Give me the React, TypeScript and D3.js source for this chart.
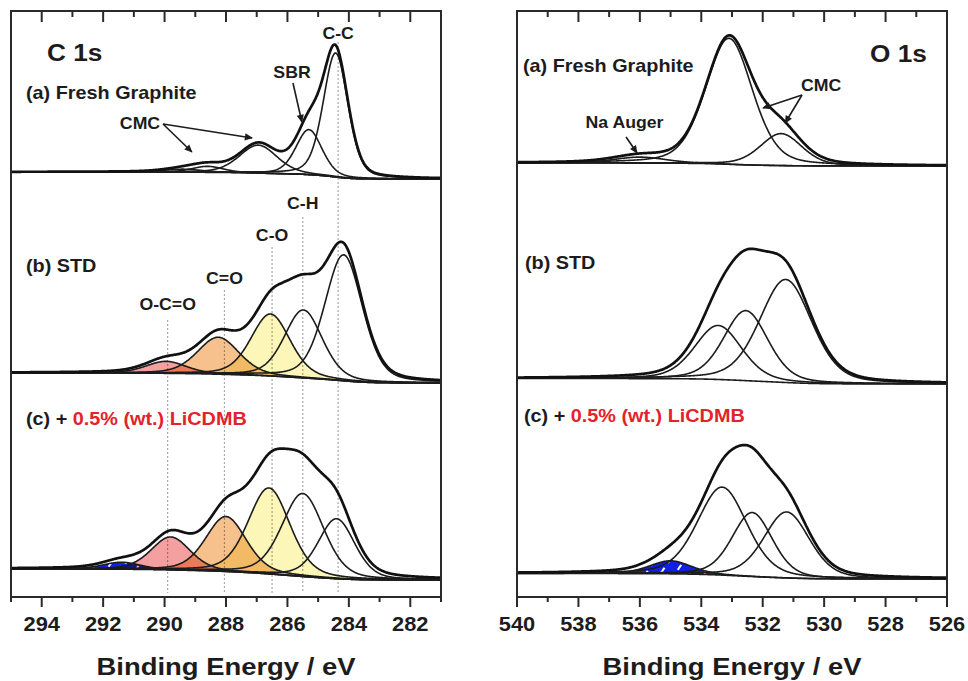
import React from "react";
import * as d3 from "d3";

// ---------- axes ----------
const C_DOMAIN: [number, number] = [295, 281];
const O_DOMAIN: [number, number] = [540, 526];
const C_TICKS = [294, 292, 290, 288, 286, 284, 282];
const O_TICKS = [540, 538, 536, 534, 532, 530, 528, 526];
const X_TITLE = "Binding Energy / eV";

// ---------- fitted components (center eV, height, FWHM eV) ----------
type Peak = { name: string; center: number; height: number; fwhm: number };

// C 1s
const C1S_A_PEAKS: Peak[] = [
  { name: "CMC", center: 289.4, height: 3, fwhm: 1.5 },
  { name: "CMC", center: 288.6, height: 6, fwhm: 1.2 },
  { name: "CMC", center: 286.95, height: 28, fwhm: 1.45 },
  { name: "SBR", center: 285.3, height: 45, fwhm: 1.0 },
  { name: "C-C", center: 284.43, height: 124, fwhm: 0.95 },
];
const C1S_A_BASE = [418, 425]; // [low-BE end, high-BE end]

const C1S_B_PEAKS: Peak[] = [
  { name: "O-C=O", center: 289.95, height: 12, fwhm: 1.55 },
  { name: "C=O", center: 288.25, height: 37, fwhm: 1.6 },
  { name: "C-O", center: 286.55, height: 62, fwhm: 1.5 },
  { name: "C-H", center: 285.48, height: 68, fwhm: 1.45 },
  { name: "C-C", center: 284.17, height: 126, fwhm: 1.45 },
];
const C1S_B_BASE = [214, 224];

const C1S_C_PEAKS: Peak[] = [
  { name: "LiCDMB", center: 291.4, height: 7, fwhm: 1.45 },
  { name: "O-C=O", center: 289.8, height: 33, fwhm: 1.5 },
  { name: "C=O", center: 288.0, height: 55, fwhm: 1.55 },
  { name: "C-O", center: 286.6, height: 86, fwhm: 1.6 },
  { name: "C-H", center: 285.5, height: 83, fwhm: 1.6 },
  { name: "C-C", center: 284.4, height: 60, fwhm: 1.4 },
];
const C1S_C_BASE = [17, 28];

// O 1s
const O1S_A_PEAKS: Peak[] = [
  { name: "Na Auger", center: 536.0, height: 6, fwhm: 2.0 },
  { name: "CMC", center: 533.1, height: 126, fwhm: 1.8 },
  { name: "CMC", center: 531.4, height: 32, fwhm: 1.6 },
];
const O1S_A_BASE = [431, 434];

const O1S_B_PEAKS: Peak[] = [
  { name: "O3", center: 533.45, height: 54, fwhm: 1.8 },
  { name: "O2", center: 532.55, height: 70, fwhm: 1.7 },
  { name: "O1", center: 531.25, height: 103, fwhm: 2.0 },
];
const O1S_B_BASE = [213, 218.5];

const O1S_C_PEAKS: Peak[] = [
  { name: "LiCDMB", center: 535.0, height: 13, fwhm: 1.6 },
  { name: "O3", center: 533.32, height: 88, fwhm: 1.9 },
  { name: "O2", center: 532.34, height: 64, fwhm: 1.55 },
  { name: "O1", center: 531.22, height: 66, fwhm: 1.75 },
];
const O1S_C_BASE = [18, 23.5];

// reference lines in C 1s
const REF_NAMES = ["O-C=O", "C=O", "C-O", "C-H", "C-C"];
const REF_POS = [289.9, 288.05, 286.5, 285.5, 284.35];

// annotation arrows: [fromEV, fromI, toEV, toI]
const C_ARROWS = [
  [290.05, 473, 287.15, 459],
  [290.05, 473, 289.11, 445],
  [285.82, 514, 285.53, 475],
];
const O_ARROWS = [
  [530.72, 502, 531.99, 489],
  [530.72, 502, 531.27, 474],
  [536.45, 460, 536.09, 444],
];

// ---------- styles / layout ----------
const FILLS: Record<string, string> = {
  "O-C=O": "#f5a0a0",
  "C=O": "#f6c18c",
  "C-O": "#fcf6b8",
};
const INK = "#1c1c1c";
const RED = "#e3232b";
const SX = 1.12;
const PANEL_W = 430;
const TOP = 11;
const BOTTOM = 597;
const REF_TOP = [320, 290, 247, 217, 42];
const REF_LABEL_Y = [310, 284, 241, 209, 39];

const GL = 0.3;
function pv(x: number, p: Peak) {
  const d = (x - p.center) / p.fwhm;
  return p.height * ((1 - GL) * Math.exp(-4 * Math.LN2 * d * d) + GL / (1 + 4 * d * d));
}

function model(peaks: Peak[], base: number[], domain: [number, number]) {
  const lo = Math.min(domain[0], domain[1]);
  const hi = Math.max(domain[0], domain[1]);
  const xs = d3.range(lo, hi + 1e-9, 0.02);
  const comps = peaks.map((p) => xs.map((x) => pv(x, p)));
  const sum = xs.map((_, i) => d3.sum(comps, (c) => c[i]));
  const cum: number[] = [0];
  for (let i = 1; i < xs.length; i++) cum[i] = cum[i - 1] + (sum[i] + sum[i - 1]) / 2;
  const tot = cum[cum.length - 1] || 1;
  const bg = cum.map((c) => base[0] + ((base[1] - base[0]) * c) / tot);
  return { xs, comps, sum, bg };
}

function T(props: {
  x: number; y: number; size: number; anchor?: string; fill?: string; children: React.ReactNode;
}) {
  return (
    <text
      transform={`translate(${props.x},${props.y}) scale(${SX},1)`}
      fontSize={props.size}
      fontWeight="bold"
      textAnchor={props.anchor || "start"}
      fill={props.fill || INK}
    >
      {props.children}
    </text>
  );
}

function Spectrum(props: {
  peaks: Peak[]; base: number[]; domain: [number, number];
  x: d3.ScaleLinear<number, number>; y: d3.ScaleLinear<number, number>; filled: boolean;
}) {
  const { peaks, base, domain, x, y, filled } = props;
  const m = model(peaks, base, domain);
  const line = d3.line<number>().x((_, i) => x(m.xs[i])).y((v) => y(v));
  const area = d3
    .area<number>()
    .x((_, i) => x(m.xs[i]))
    .y0((_, i) => y(m.bg[i]))
    .y1((v, i) => y(m.bg[i] + v));
  return (
    <g>
      {filled &&
        peaks.map((p, k) => {
          const f = p.name === "LiCDMB" ? "url(#hatch)" : FILLS[p.name];
          if (!f) return null;
          return (
            <path
              key={"f" + k}
              d={area(m.comps[k]) || ""}
              fill={f}
              stroke="none"
              style={{ mixBlendMode: p.name === "LiCDMB" ? "normal" : "multiply" }}
            />
          );
        })}
      {peaks.map((p, k) => (
        <path
          key={"c" + k}
          d={line(m.comps[k].map((v, i) => v + m.bg[i])) || ""}
          fill="none"
          stroke={INK}
          strokeWidth={1.6}
        />
      ))}
      <path d={line(m.bg) || ""} fill="none" stroke={INK} strokeWidth={1.6} />
      <path
        d={line(m.sum.map((v, i) => v + m.bg[i])) || ""}
        fill="none"
        stroke="#111"
        strokeWidth={2.7}
        strokeLinejoin="round"
      />
    </g>
  );
}

function Frame(props: { x: d3.ScaleLinear<number, number>; ticks: number[]; domain: [number, number] }) {
  const { x, ticks, domain } = props;
  const lo = Math.min(domain[0], domain[1]);
  const hi = Math.max(domain[0], domain[1]);
  const all = d3.range(lo, hi + 0.5, 1);
  const x0 = x(domain[0]);
  return (
    <g>
      <rect x={x0} y={TOP} width={PANEL_W} height={BOTTOM - TOP} fill="none" stroke="#2a2a2a" strokeWidth={2} />
      {all.map((v) => {
        const major = ticks.includes(v);
        return (
          <g key={v}>
            <line x1={x(v)} x2={x(v)} y1={TOP} y2={TOP + (major ? 11 : 6)} stroke="#2a2a2a" strokeWidth={2} />
            <line x1={x(v)} x2={x(v)} y1={BOTTOM} y2={BOTTOM + (major ? 10 : 5)} stroke="#2a2a2a" strokeWidth={2} />
          </g>
        );
      })}
      {ticks.map((v) => (
        <T key={"l" + v} x={x(v)} y={631} size={19.5} anchor="middle">
          {v}
        </T>
      ))}
      <T x={x0 + PANEL_W / 2} y={675} size={24.5} anchor="middle">
        {X_TITLE}
      </T>
    </g>
  );
}

function Arrow(props: { a: number[]; x: d3.ScaleLinear<number, number>; y: d3.ScaleLinear<number, number> }) {
  const { a, x, y } = props;
  return (
    <line
      x1={x(a[0])}
      y1={y(a[1])}
      x2={x(a[2])}
      y2={y(a[3])}
      stroke={INK}
      strokeWidth={1.6}
      markerEnd="url(#arrowhead)"
    />
  );
}

export default function App() {
  const y = d3.scaleLinear().domain([0, BOTTOM - TOP]).range([BOTTOM, TOP]);
  const xC = d3.scaleLinear().domain(C_DOMAIN).range([11, 11 + PANEL_W]);
  const xO = d3.scaleLinear().domain(O_DOMAIN).range([517, 517 + PANEL_W]);

  return (
    <svg
      width={968}
      height={681}
      style={{ position: "absolute", left: 0, top: 0, background: "#fff" }}
      fontFamily="'Liberation Sans', Arial, Helvetica, sans-serif"
    >
      <defs>
        <clipPath id="clipC">
          <rect x={11} y={TOP} width={PANEL_W} height={BOTTOM - TOP} />
        </clipPath>
        <clipPath id="clipO">
          <rect x={517} y={TOP} width={PANEL_W} height={BOTTOM - TOP} />
        </clipPath>
        <pattern id="hatch" patternUnits="userSpaceOnUse" width={12} height={12} patternTransform="rotate(35)">
          <rect width={12} height={12} fill="#1020e6" />
          <line x1={6} y1={0} x2={6} y2={6} stroke="#fff" strokeWidth={2} />
        </pattern>
        <marker
          id="arrowhead"
          viewBox="0 0 10 10"
          refX={9}
          refY={5}
          markerWidth={10}
          markerHeight={8}
          markerUnits="userSpaceOnUse"
          orient="auto"
        >
          <path d="M0,0.5 L10,5 L0,9.5 z" fill={INK} />
        </marker>
      </defs>
      <rect width={968} height={681} fill="#fff" />

      {/* ---------- C 1s ---------- */}
      <g clipPath="url(#clipC)">
        {REF_POS.map((v, i) => (
          <line
            key={"r" + i}
            x1={xC(v)}
            x2={xC(v)}
            y1={REF_TOP[i]}
            y2={593}
            stroke="#a8a8a8"
            strokeWidth={1.2}
            strokeDasharray="2,2"
          />
        ))}
        <Spectrum peaks={C1S_A_PEAKS} base={C1S_A_BASE} domain={C_DOMAIN} x={xC} y={y} filled={false} />
        <Spectrum peaks={C1S_B_PEAKS} base={C1S_B_BASE} domain={C_DOMAIN} x={xC} y={y} filled={true} />
        <Spectrum peaks={C1S_C_PEAKS} base={C1S_C_BASE} domain={C_DOMAIN} x={xC} y={y} filled={true} />
        {C_ARROWS.map((a, i) => (
          <Arrow key={"ca" + i} a={a} x={xC} y={y} />
        ))}
      </g>
      <Frame x={xC} ticks={C_TICKS} domain={C_DOMAIN} />
      <T x={47} y={61} size={23.4}>C 1s</T>
      <T x={26} y={99} size={17.7}>(a) Fresh Graphite</T>
      <T x={26} y={272} size={17.7}>(b) STD</T>
      <T x={26} y={425} size={17.7}>
        (c) + <tspan fill={RED}>0.5% (wt.) LiCDMB</tspan>
      </T>
      {REF_NAMES.map((n, i) => (
        <T key={"rn" + i} x={xC(REF_POS[i])} y={REF_LABEL_Y[i]} size={15.8} anchor="middle">
          {n}
        </T>
      ))}
      <T x={xC(285.85)} y={78} size={15.8} anchor="middle">SBR</T>
      <T x={xC(290.8)} y={129} size={15.8} anchor="middle">CMC</T>

      {/* ---------- O 1s ---------- */}
      <g clipPath="url(#clipO)">
        <Spectrum peaks={O1S_A_PEAKS} base={O1S_A_BASE} domain={O_DOMAIN} x={xO} y={y} filled={false} />
        <Spectrum peaks={O1S_B_PEAKS} base={O1S_B_BASE} domain={O_DOMAIN} x={xO} y={y} filled={false} />
        <Spectrum peaks={O1S_C_PEAKS} base={O1S_C_BASE} domain={O_DOMAIN} x={xO} y={y} filled={true} />
        {O_ARROWS.map((a, i) => (
          <Arrow key={"oa" + i} a={a} x={xO} y={y} />
        ))}
      </g>
      <Frame x={xO} ticks={O_TICKS} domain={O_DOMAIN} />
      <T x={870} y={62} size={23.4}>O 1s</T>
      <T x={523} y={72} size={17.7}>(a) Fresh Graphite</T>
      <T x={525} y={269} size={17.7}>(b) STD</T>
      <T x={524} y={422} size={17.7}>
        (c) + <tspan fill={RED}>0.5% (wt.) LiCDMB</tspan>
      </T>
      <T x={xO(530.1)} y={91} size={15.8} anchor="middle">CMC</T>
      <T x={xO(536.5)} y={128} size={15.8} anchor="middle">Na Auger</T>
    </svg>
  );
}
